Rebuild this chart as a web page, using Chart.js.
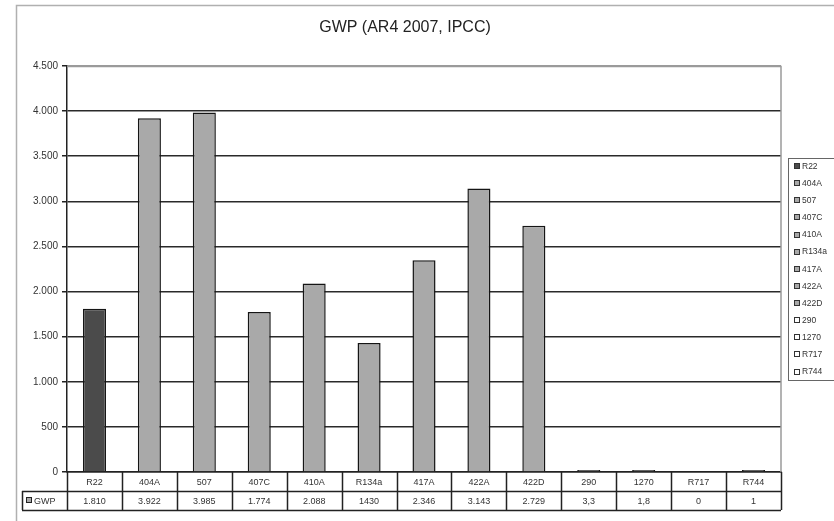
<!DOCTYPE html>
<html>
<head>
<meta charset="utf-8">
<script src="https://cdn.jsdelivr.net/npm/chart.js@4.4.1/dist/chart.umd.min.js"></script>
<style>
  html, body { margin: 0; padding: 0; background: #fff; }
  #wrap { width: 834px; height: 521px; position: relative; }
</style>
</head>
<body>
<div id="wrap"><canvas id="c" width="834" height="521"></canvas></div>
<script>
const titleText = "GWP (AR4 2007, IPCC)";
const seriesName = "GWP";
const categories = ["R22", "404A", "507", "407C", "410A", "R134a", "417A", "422A", "422D", "290", "1270", "R717", "R744"];
const gwpValues = [1810, 3922, 3985, 1774, 2088, 1430, 2346, 3143, 2729, 3.3, 1.8, 0, 1];
const gwpTableLabels = ["1.810", "3.922", "3.985", "1.774", "2.088", "1430", "2.346", "3.143", "2.729", "3,3", "1,8", "0", "1"];
const yTicks = [0, 500, 1000, 1500, 2000, 2500, 3000, 3500, 4000, 4500];

const FONT = '"Liberation Sans", Arial, sans-serif';
const DARK = '#4b4b4b';
const LIGHT = '#a9a9a9';

function fmtThousands(v) {
  const s = String(Math.round(v));
  return s.replace(/\B(?=(\d{3})+(?!\d))/g, '.');
}

const decorPlugin = {
  id: 'decor',
  beforeDraw(chart) {
    const ctx = chart.ctx;
    ctx.save();
    ctx.fillStyle = '#fff';
    ctx.fillRect(0, 0, chart.width, chart.height);
    ctx.strokeStyle = '#b0b0b0';
    ctx.lineWidth = 1.5;
    ctx.strokeRect(16.5, 5.5, chart.width + 20, chart.height + 20);
    ctx.restore();
  },
  afterDraw(chart) {
    const ctx = chart.ctx;
    const x = chart.scales.x;
    const ca = chart.chartArea;
    const n = categories.length;
    const cw = (ca.right - ca.left) / n;
    const row1Bottom = 491;
    const row2Bottom = 510;
    ctx.save();
    // Title
    ctx.fillStyle = '#222';
    ctx.font = '16px ' + FONT;
    ctx.textAlign = 'center';
    ctx.textBaseline = 'middle';
    ctx.fillText(titleText, 405, 28);

    // plot area right/top border
    ctx.strokeStyle = '#9a9a9a';
    ctx.lineWidth = 1.5;
    ctx.beginPath();
    ctx.moveTo(ca.left, ca.top + 0.5);
    ctx.lineTo(ca.right, ca.top + 0.5);
    ctx.lineTo(ca.right, ca.bottom);
    ctx.stroke();

    // data table
    ctx.strokeStyle = '#222';
    ctx.lineWidth = 1.5;
    ctx.beginPath();
    for (let i = 0; i <= n; i++) {
      const bx = Math.round(ca.left + i * cw) + 0.5;
      ctx.moveTo(bx, ca.bottom);
      ctx.lineTo(bx, row2Bottom);
    }
    ctx.moveTo(22, row1Bottom + 0.5);
    ctx.lineTo(ca.right, row1Bottom + 0.5);
    ctx.moveTo(22, row2Bottom + 0.5);
    ctx.lineTo(ca.right, row2Bottom + 0.5);
    ctx.moveTo(22.5, row1Bottom);
    ctx.lineTo(22.5, row2Bottom);
    ctx.stroke();

    ctx.fillStyle = '#333';
    ctx.font = '9px ' + FONT;
    ctx.textAlign = 'center';
    ctx.textBaseline = 'middle';
    for (let i = 0; i < n; i++) {
      const cx = x.getPixelForValue(i);
      ctx.fillText(categories[i], cx, (ca.bottom + row1Bottom) / 2 + 1);
      ctx.fillText(gwpTableLabels[i], cx, (row1Bottom + row2Bottom) / 2 + 1);
    }
    // row header
    ctx.fillStyle = LIGHT;
    ctx.fillRect(26, 497, 6, 6);
    ctx.strokeStyle = '#222';
    ctx.lineWidth = 1;
    ctx.strokeRect(26.5, 497.5, 5, 5);
    ctx.fillStyle = '#333';
    ctx.textAlign = 'left';
    ctx.fillText(seriesName, 34, (row1Bottom + row2Bottom) / 2 + 1);

    // legend
    const lx = 788.5, ly = 158.5;
    ctx.strokeStyle = '#666';
    ctx.lineWidth = 1;
    ctx.strokeRect(lx, ly, 60, 222);
    ctx.font = '8.5px ' + FONT;
    ctx.textBaseline = 'middle';
    const step = (371.5 - 166) / (n - 1);
    for (let i = 0; i < n; i++) {
      const iy = 166 + i * step;
      const fill = i === 0 ? DARK : (gwpValues[i] >= 100 ? LIGHT : '#fff');
      ctx.fillStyle = fill;
      ctx.fillRect(794, Math.round(iy) - 3, 6, 6);
      ctx.strokeStyle = '#333';
      ctx.strokeRect(794.5, Math.round(iy) - 2.5, 5, 5);
      ctx.fillStyle = '#333';
      ctx.fillText(categories[i], 802, iy + 0.5);
    }
    ctx.restore();
  }
};

new Chart(document.getElementById('c'), {
  type: 'bar',
  data: {
    labels: categories,
    datasets: [{
      label: seriesName,
      data: gwpValues,
      backgroundColor: (c) => c.raw === 0 ? 'rgba(0,0,0,0)' : (c.dataIndex === 0 ? DARK : LIGHT),
      borderColor: (c) => c.raw === 0 ? 'rgba(0,0,0,0)' : '#151515',
      borderWidth: 1.5,
      borderSkipped: 'bottom',
      minBarLength: 2,
      barPercentage: 0.42,
      categoryPercentage: 1.0
    }]
  },
  options: {
    responsive: false,
    animation: false,
    devicePixelRatio: 1,
    layout: { padding: { left: 0, top: 66, right: 53, bottom: 49 } },
    plugins: {
      legend: { display: false },
      title: { display: false },
      tooltip: { enabled: false }
    },
    scales: {
      x: {
        type: 'category',
        offset: true,
        grid: { display: false, drawTicks: false },
        border: { display: true, color: '#222', width: 1.5 },
        ticks: { display: false },
        afterFit: (s) => { s.height = 0; }
      },
      y: {
        min: 0,
        max: 4500,
        afterBuildTicks: (s) => { s.ticks = yTicks.map(v => ({ value: v })); },
        afterFit: (s) => { s.width = 67; },
        grid: {
          color: (c) => c.tick && c.tick.value === 4500 ? '#9a9a9a' : '#2a2a2a',
          tickColor: '#222',
          lineWidth: 1.5,
          tickLength: 5
        },
        border: { display: true, color: '#222', width: 1.5 },
        ticks: {
          color: '#333',
          font: { family: FONT, size: 10 },
          padding: 4,
          callback: (v) => fmtThousands(v)
        }
      }
    }
  },
  plugins: [decorPlugin]
});
</script>
</body>
</html>
